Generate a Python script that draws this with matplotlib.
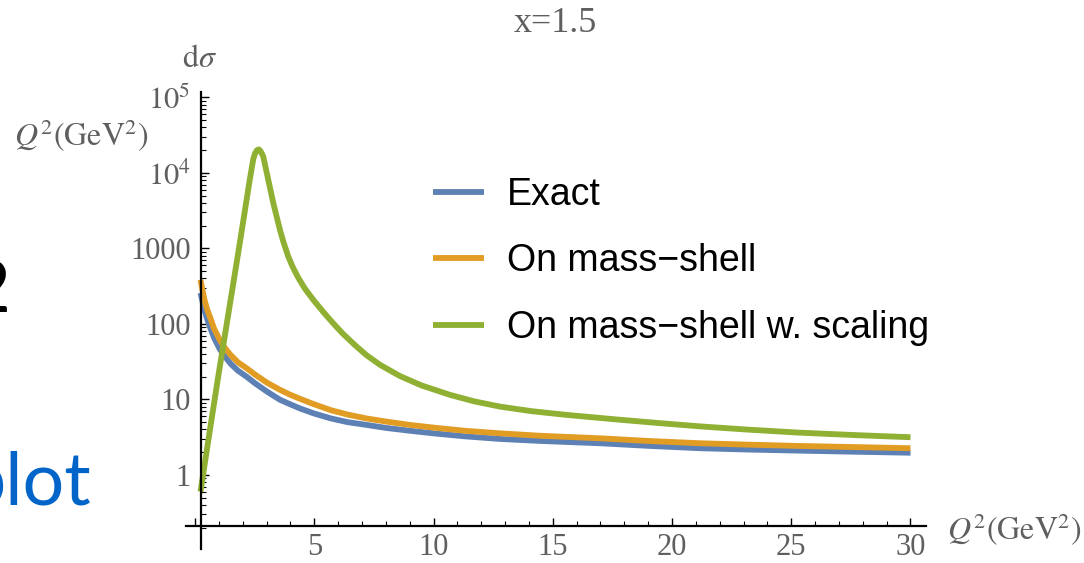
import numpy as np
import matplotlib
matplotlib.use("Agg")
import matplotlib.pyplot as plt
from matplotlib.ticker import FixedLocator, LogLocator, NullFormatter

plt.rcParams['font.family'] = ['Liberation Serif', 'DejaVu Serif']
plt.rcParams['mathtext.fontset'] = 'stix'

# ---- data ----
q2_exact = [0.23, 0.3, 0.4, 0.5, 0.62, 0.8, 1.04, 1.25, 1.5, 1.8, 2.16, 2.5, 3.0, 3.56, 4.0, 4.4, 5.0,
            5.7, 6.4, 7.19, 8.0, 9.0, 9.99, 11.3, 12.78, 14.5, 16.98, 19.0, 21.17, 23.2, 25.36, 27.7, 30.0]
y_exact = [257, 205, 150, 118, 92, 65, 46, 37, 29.5, 24, 20, 16.5, 12.8, 9.9, 8.6, 7.6, 6.5,
           5.6, 5.0, 4.6, 4.2, 3.85, 3.56, 3.25, 3.0, 2.82, 2.63, 2.43, 2.26, 2.17, 2.10, 2.03, 1.97]

q2_shell = [0.23, 0.3, 0.4, 0.5, 0.62, 0.8, 1.04, 1.25, 1.5, 1.8, 2.16, 2.5, 3.0, 3.56, 4.0, 4.4, 4.96,
            5.7, 6.4, 7.19, 8.0, 9.0, 9.99, 11.3, 12.78, 14.5, 16.98, 19.0, 21.17, 23.2, 25.36, 27.7, 30.0]
y_shell = [383, 290, 205, 158, 125, 86, 61, 48, 38.5, 31, 25.9, 21.5, 16.8, 13.4, 11.5, 10.2, 8.7,
           7.2, 6.3, 5.6, 5.1, 4.6, 4.24, 3.85, 3.56, 3.3, 3.06, 2.82, 2.63, 2.52, 2.42, 2.34, 2.26]

q2_scal = [0.23, 0.6, 1.0, 1.4, 1.8, 2.1, 2.3, 2.44, 2.52, 2.6, 2.68, 2.76, 2.86, 3.07, 3.28, 3.56,
           3.7, 3.91, 4.1, 4.33, 4.6, 4.96, 5.4, 5.79, 6.2, 6.7, 7.19, 7.75, 8.59, 9.5, 10.69, 11.7,
           12.78, 14.1, 15.58, 17.68, 19.4, 21.17, 23.2, 25.36, 27.7, 30.0]
y_scal = [0.603, 3.55, 22.9, 138, 832, 3311, 8318, 15136, 18197, 19953, 20417, 19055, 16444, 8072,
          3981, 1758, 1230, 776, 562, 407, 295, 208, 141, 102, 74.1, 52.5, 38.5, 28.8, 20.4, 15.3,
          11.5, 9.44, 8.04, 7.0, 6.24, 5.43, 4.88, 4.40, 3.98, 3.63, 3.37, 3.16]

series_labels = ["Exact", "On mass\u2212shell", "On mass\u2212shell w. scaling"]
series_colors = ["#5E81B5", "#E19C24", "#8FB032"]

x_major = [0, 5, 10, 15, 20, 25, 30]
x_major_labels = ["", "5", "10", "15", "20", "25", "30"]
y_major = [1, 10, 100, 1000, 1e4, 1e5]
y_major_labels = ["1", "10", "100", "1000", r"$10^{4}$", r"$10^{5}$"]

GREY = "#5f5f5f"
W, H = 1084, 563

fig = plt.figure(figsize=(W / 100, H / 100), dpi=100)
ax = fig.add_axes([186 / W, (H - 549) / H, (926 - 186) / W, (549 - 92) / H])

for xs, ys, lab, col in zip([q2_exact, q2_shell, q2_scal], [y_exact, y_shell, y_scal],
                            series_labels, series_colors):
    ax.plot(xs, ys, color=col, lw=4.2, label=lab, solid_capstyle='butt', solid_joinstyle='round')

ax.set_yscale('log')
ax.set_xlim(-0.38, 30.65)
ax.set_ylim(10 ** -0.98, 10 ** 5.07)

for s in ['top', 'right']:
    ax.spines[s].set_visible(False)
ax.spines['left'].set_position(('data', 0.23))
ax.spines['bottom'].set_position(('data', 10 ** -0.675))
for s in ['left', 'bottom']:
    ax.spines[s].set_linewidth(1.6)
    ax.spines[s].set_color('black')

ax.xaxis.set_major_locator(FixedLocator(x_major))
ax.set_xticklabels(x_major_labels)
ax.xaxis.set_minor_locator(FixedLocator([v for v in range(1, 30) if v % 5 != 0]))
ax.yaxis.set_major_locator(FixedLocator(y_major))
ax.set_yticklabels(y_major_labels)
ax.yaxis.set_minor_locator(LogLocator(base=10, subs=np.arange(2, 10), numticks=20))
ax.yaxis.set_minor_formatter(NullFormatter())

ax.tick_params(which='major', direction='in', length=6, width=1.0, color='black',
               labelsize=22, labelcolor=GREY)
ax.tick_params(which='minor', direction='in', length=3.5, width=0.8, color='black')
ax.tick_params(axis='y', which='major', pad=7)
ax.tick_params(axis='x', which='major', pad=5)

leg = ax.legend(loc='upper left', bbox_to_anchor=(433 / W, 1 - 177 / H), bbox_transform=fig.transFigure,
                frameon=False, prop={'family': 'Liberation Sans', 'size': 27},
                handlelength=1.36, handletextpad=0.615, labelspacing=0.81, borderpad=0, borderaxespad=0)
for t in leg.get_texts():
    t.set_color('black')

fig.text(555 / W, 1 - 23 / H, "x=1.5", ha='center', va='center', fontsize=26, color=GREY)
fig.text(182 / W, 1 - 67 / H, r"$\mathrm{d}\sigma$", ha='left', va='baseline', fontsize=23, color=GREY)
qlab = r"$Q^2\left(\mathrm{GeV}^2\right)$"
fig.text(14 / W, 1 - 136 / H, qlab, ha='left', va='center', fontsize=23, color=GREY)
fig.text(947 / W, 1 - 530 / H, qlab, ha='left', va='center', fontsize=23, color=GREY)

# partially visible slide elements at the left edge
fig.text(10 / W, 1 - 312 / H, "2", ha='right', va='baseline', fontsize=52, family='Lato', color='black')
fig.text(91 / W, 1 - 505 / H, "plot", ha='right', va='baseline', fontsize=53, family='Lato', color='#0064C8')

fig.savefig("out.png", dpi=100)
